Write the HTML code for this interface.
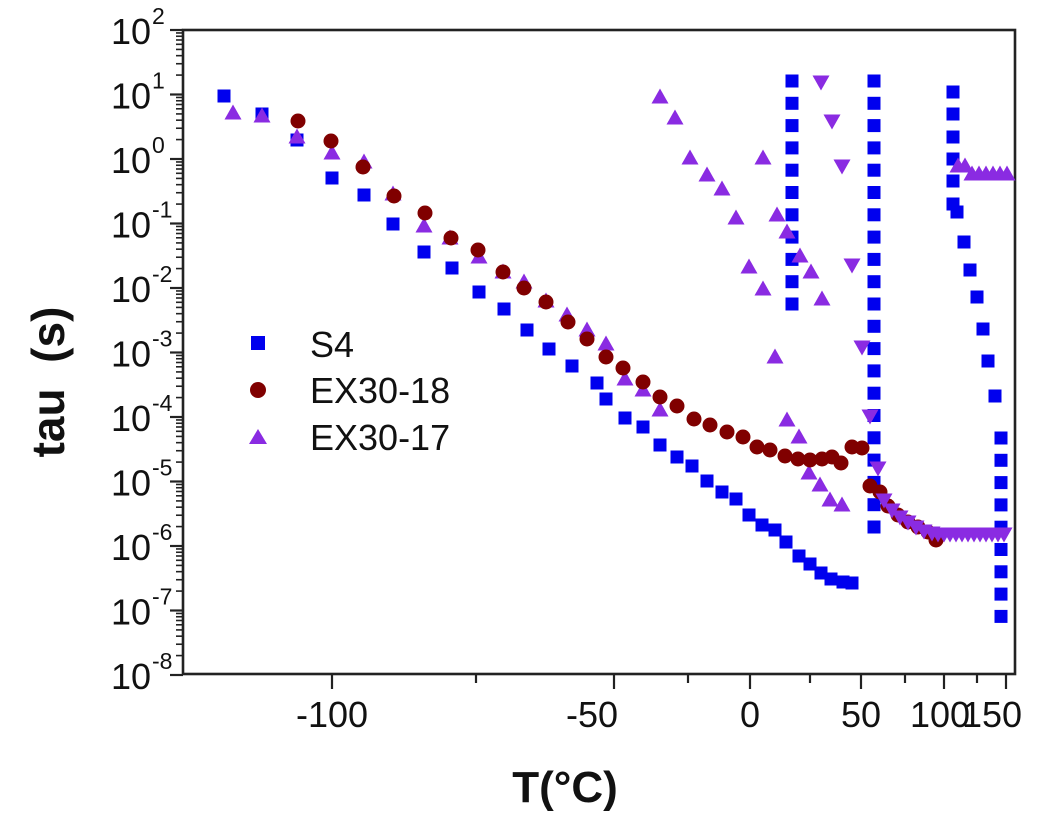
<!DOCTYPE html>
<html><head><meta charset="utf-8"><style>
html,body{margin:0;padding:0;background:#fff;}
svg{display:block;font-family:"Liberation Sans",Arial,sans-serif;}
</style></head><body>
<svg id="s" width="1048" height="822" viewBox="0 0 1048 822" xmlns="http://www.w3.org/2000/svg">
<rect width="1048" height="822" fill="#fff"/>
<g id="ticks" stroke="#222" stroke-width="2.2"></g>
<rect x="183" y="30" width="832" height="644" fill="none" stroke="#222" stroke-width="2.6"/>
<g id="data"></g>
<g font-size="36" fill="#111" text-anchor="middle">
<text x="332" y="727">-100</text>
<text x="592" y="727">-50</text>
<text x="750" y="727">0</text>
<text x="861" y="727">50</text>
<text x="940" y="727">100</text>
<text x="992" y="727">150</text>
</g>
<g id="ylab" font-size="36" fill="#111"></g>
<text x="565" y="802" font-size="44" font-weight="bold" text-anchor="middle" fill="#111">T(°C)</text>
<text transform="translate(64,382) rotate(-90)" font-size="46" font-weight="bold" text-anchor="middle" fill="#111" xml:space="preserve">tau  (s)</text>
<g font-size="36" fill="#111">
<rect x="251" y="336" width="14" height="14" fill="#0000ee"/>
<text x="310" y="357">S4</text>
<circle cx="258" cy="390" r="8" fill="#800000"/>
<text x="310" y="403">EX30-18</text>
<polygon points="249,444 267,444 258,429" fill="#8a2be2"/>
<text x="310" y="450">EX30-17</text>
</g>
</svg>
<script>
var NS="http://www.w3.org/2000/svg";
function el(t,a,p){var e=document.createElementNS(NS,t);for(var k in a)e.setAttribute(k,a[k]);p.appendChild(e);return e;}
var T=document.getElementById('ticks'),D=document.getElementById('data'),Y=document.getElementById('ylab');
for(var d=0;d<=10;d++){var y=30+64.5*d;
 el('line',{x1:170,y1:y,x2:183,y2:y},T);
 var ex=2-d;
 var t=el('text',{x:151,y:y+14,'text-anchor':'end'},Y);t.textContent='10';
 var s=el('text',{x:152,y:y-6,'font-size':23},Y);s.textContent=String(ex);
 if(d<10)for(var m=2;m<=9;m++){var ym=30+64.5*(d+1-Math.log10(m));el('line',{x1:176,y1:ym,x2:183,y2:ym,'stroke-width':1.6},T);}
}
[[332,1],[476,0],[614,1],[688,0],[750,1],[810,0],[861,1],[905,0],[944,1],[977,0],[1006,1]].forEach(function(p){el('line',{x1:p[0],y1:674,x2:p[0],y2:p[1]?689:683},T);});
function sq(x,y){el('rect',{x:x-6.5,y:y-6.5,width:13,height:13,fill:'#0000ee'},D);}
function ci(x,y){el('circle',{cx:x,cy:y,r:7.5,fill:'#800000'},D);}
function up(x,y){el('polygon',{points:(x-8.5)+','+(y+6.5)+' '+(x+8.5)+','+(y+6.5)+' '+x+','+(y-8.5),fill:'#8a2be2'},D);}
function dn(x,y){el('polygon',{points:(x-8.5)+','+(y-6.5)+' '+(x+8.5)+','+(y-6.5)+' '+x+','+(y+8.5),fill:'#8a2be2'},D);}
[[224,96],[262,114],[297,140],[332,178],[364,195],[393,224],[424,252],[452,268],[479,292],[504,309],[527,330],[549,349],[572,366],[597,383],[606,399],[625,418],[643,427],[660,445],[677,457],[692,466],[707,481],[722,492],[736,499],[749,515],[762,525],[775,530],[786,542],[799,556],[810,564],[821,573],[831,579],[843,582],[852,583]].forEach(function(p){sq(p[0],p[1]);});
for(var i=0;i<11;i++)sq(792,81+22.3*i);
for(var i=0;i<21;i++)sq(874,81+22.3*i);
for(var i=0;i<9;i++)sq(1001,438+22.3*i);
[[953,92],[953,114],[953,137],[953,159],[953,181],[953,204],[957,212],[964,242],[970,270],[977,297],[983,329],[988,361],[995,396]].forEach(function(p){sq(p[0],p[1]);});
[[233,113],[262,116],[297,137],[332,153],[364,162],[393,194],[424,226],[450,238],[479,257],[503,272],[524,282],[546,301],[567,315],[587,330],[606,344],[625,379],[643,390],[660,410],[775,357],[787,420],[799,437],[809,473],[820,485],[830,500],[842,505],
[660,97],[675,118],[690,158],[707,175],[722,189],[736,218],[763,158],[777,215],[787,232],[800,256],[811,272],[749,267],[763,289],[822,299]].forEach(function(p){up(p[0],p[1]);});
for(var x=958;x<=1010;x+=7)up(x,x<970?166:174);
[[298,121],[331,141],[363,167],[394,196],[425,213],[451,238],[478,250],[503,272],[524,288],[546,302],[568,322],[587,339],[606,357],[623,368],[643,382],[660,397],[677,406],[694,419],[710,425],[727,432],[743,437],[757,447],[770,450],[785,456],[798,459],[810,460],[822,459],[832,457],[841,463],[852,447],[862,448],[870,486],[880,492],[888,506],[898,515],[908,522],[918,527],[928,532],[936,540]].forEach(function(p){ci(p[0],p[1]);});
[[821,82],[832,121],[842,166],[852,265],[862,347],[870,416],[878,468],[884,500],[892,510],[900,517],[908,522],[916,527],[924,531],[932,533]].forEach(function(p){dn(p[0],p[1]);});
for(var x=938;x<=1006;x+=6)dn(x,534);
</script>
</body></html>
